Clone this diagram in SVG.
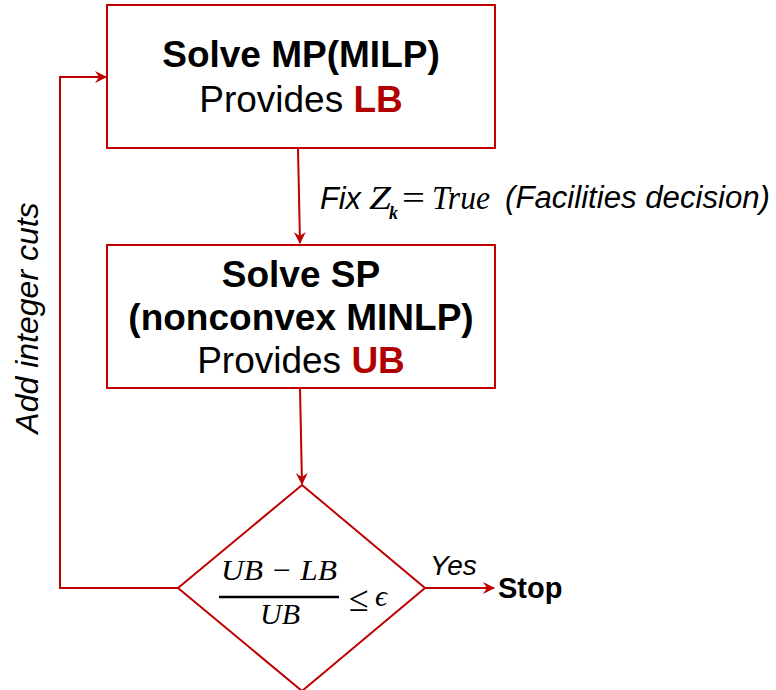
<svg xmlns="http://www.w3.org/2000/svg" width="776" height="690" viewBox="0 0 776 690">
<style>
.box{fill:#fff;stroke:#C00000;stroke-width:2}
.edge{fill:none;stroke:#C00000;stroke-width:2}
.t{font-family:"Liberation Sans",Arial,sans-serif;fill:#000}
.b{font-weight:bold}
.red{fill:#B00000;font-weight:bold}
.it{font-style:italic}
.m{font-family:"Liberation Serif","Times New Roman",serif;font-style:italic;fill:#000}
.up{font-style:normal}
</style>
<defs>
<marker id="ah" markerWidth="12" markerHeight="12" viewBox="0 0 12 12" refX="11" refY="6" orient="auto" markerUnits="userSpaceOnUse">
<path d="M0,0 L12,6 L0,12 L4,6 z" fill="#C00000"/>
</marker>
</defs>
<rect width="776" height="690" fill="#fff"/>
<g id="edges">
<path class="edge" d="M298,149 L300,243" marker-end="url(#ah)"/>
<path class="edge" d="M300,388 L302,484" marker-end="url(#ah)"/>
<path class="edge" d="M178,588 H60 V77 H106" marker-end="url(#ah)"/>
<path class="edge" d="M425,588 H494" marker-end="url(#ah)"/>
<g id="label-fix">
<text class="t it" x="320" y="209" font-size="31" textLength="41" lengthAdjust="spacingAndGlyphs">Fix</text>
<text class="m" x="369" y="209" font-size="33" textLength="22" lengthAdjust="spacingAndGlyphs">Z</text>
<text class="m b" x="389" y="219" font-size="18">k</text>
<text class="m up" x="402" y="209" font-size="34" textLength="23" lengthAdjust="spacingAndGlyphs">=</text>
<text class="m" x="432" y="209" font-size="33" textLength="58" lengthAdjust="spacingAndGlyphs">True</text>
<text class="t it" x="505" y="208" font-size="31" textLength="265" lengthAdjust="spacingAndGlyphs">(Facilities decision)</text>
</g>
<text class="t it" x="0" y="0" font-size="32" text-anchor="middle" transform="translate(38,318) rotate(-90)">Add integer cuts</text>
<text class="t it" x="430" y="575" font-size="28">Yes</text>
</g>
<g id="mp">
<rect class="box" x="107" y="5" width="388" height="143"/>
<text class="t b" x="301" y="67" font-size="37" text-anchor="middle">Solve MP(MILP)</text>
<text class="t" x="301" y="112" font-size="37" text-anchor="middle">Provides <tspan class="red">LB</tspan></text>
</g>
<g id="sp">
<rect class="box" x="107" y="245" width="388" height="143"/>
<text class="t b" x="301" y="287" font-size="37" text-anchor="middle">Solve SP</text>
<text class="t b" x="301" y="330" font-size="37" text-anchor="middle">(nonconvex MINLP)</text>
<text class="t" x="301" y="373" font-size="37" text-anchor="middle">Provides <tspan class="red">UB</tspan></text>
</g>
<g id="decision">
<path class="box" d="M302,485 L425,588 L302,691 L178,588 Z"/>
<text class="m" x="221" y="580" font-size="30" textLength="116" lengthAdjust="spacingAndGlyphs">UB − LB</text>
<line x1="219" y1="597" x2="339" y2="597" stroke="#000" stroke-width="2.5"/>
<text class="m" x="260" y="624" font-size="30" textLength="40" lengthAdjust="spacingAndGlyphs">UB</text>
<text class="m up" x="349" y="611" font-size="36">≤</text>
<text class="m" x="375" y="606" font-size="30">ϵ</text>
</g>
<g id="stop">
<text class="t b" x="498" y="598" font-size="29">Stop</text>
</g>
</svg>
